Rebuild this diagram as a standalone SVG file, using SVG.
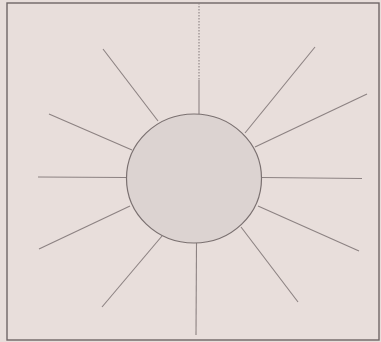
<svg xmlns="http://www.w3.org/2000/svg" width="381" height="342" viewBox="0 0 381 342">
<style>
.ray{stroke:#8c8282;stroke-width:1.1;fill:none}
.frame{fill:none;stroke:#6f6666;stroke-width:1.4}
</style>
<rect x="0" y="0" width="381" height="342" fill="#e8dedb"/>
<rect x="7" y="3" width="372" height="337" class="frame"/>
<g id="rays">
<line class="ray" x1="199" y1="80" x2="199" y2="114"/>
<line class="ray" x1="199" y1="3" x2="199" y2="80" stroke-dasharray="1.5 1.5"/>
<line class="ray" x1="196.5" y1="243" x2="196" y2="335"/>
<line class="ray" x1="38" y1="177" x2="126" y2="177.5"/>
<line class="ray" x1="262" y1="177.5" x2="362" y2="178.5"/>
<line class="ray" x1="103" y1="49" x2="158" y2="121"/>
<line class="ray" x1="49" y1="114" x2="132" y2="150"/>
<line class="ray" x1="315" y1="47" x2="245" y2="133"/>
<line class="ray" x1="367" y1="94" x2="255" y2="147"/>
<line class="ray" x1="130" y1="206" x2="39" y2="249"/>
<line class="ray" x1="162" y1="236" x2="102" y2="307"/>
<line class="ray" x1="258" y1="206" x2="359" y2="251"/>
<line class="ray" x1="241" y1="227" x2="298" y2="302"/>
</g>
<g id="sun">
<ellipse cx="194" cy="178.5" rx="67.5" ry="64.5" fill="#dcd3d1" stroke="#7a7070" stroke-width="1.2"/>
</g>
</svg>
